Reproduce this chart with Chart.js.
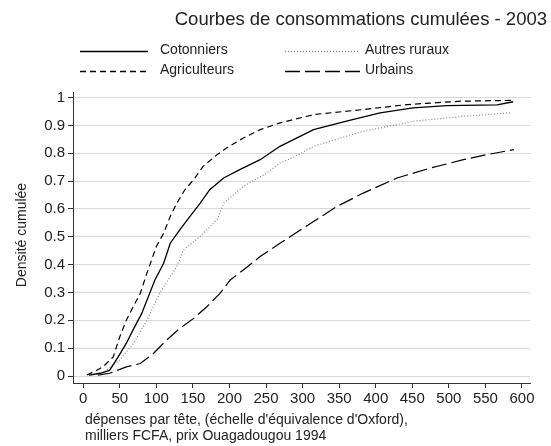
<!DOCTYPE html>
<html>
<head>
<meta charset="utf-8">
<script src="https://cdn.jsdelivr.net/npm/chart.js@4/dist/chart.umd.min.js"></script>
<style>
html,body{margin:0;padding:0;background:#fff;}
#wrap{position:relative;width:551px;height:446px;}
</style>
</head>
<body>
<div id="wrap"><canvas id="c" width="551" height="446"></canvas></div>
<script>
const TITLE = "Courbes de consommations cumulées - 2003";
const Y_TITLE = "Densité cumulée";
const X_TITLE = ["dépenses par tête, (échelle d'équivalence d'Oxford),", "milliers FCFA, prix Ouagadougou 1994"];
const SERIES_NAMES = ["Cotonniers", "Agriculteurs", "Autres ruraux", "Urbains"];
const X_TICKS = [0,50,100,150,200,250,300,350,400,450,500,550,600];
const Y_TICKS = [0,0.1,0.2,0.3,0.4,0.5,0.6,0.7,0.8,0.9,1];
const Y_TICK_LABELS = ["0","0.1","0.2","0.3","0.4","0.5","0.6","0.7","0.8","0.9","1"];

const cotonniersX = [8, 23, 36, 48, 59, 68, 80, 89, 98, 110, 119, 132, 146, 160, 173, 192, 214, 242, 269, 315, 360, 406, 451, 497, 566, 588];
const cotonniersY = [0.003, 0.01, 0.02, 0.07, 0.118, 0.165, 0.225, 0.285, 0.345, 0.405, 0.477, 0.525, 0.573, 0.621, 0.669, 0.711, 0.741, 0.777, 0.825, 0.885, 0.915, 0.945, 0.963, 0.971, 0.974, 0.985];

const agriculteursX = [5, 18, 27, 41, 50, 59, 66, 78, 87, 100, 110, 119, 128, 139, 151, 164, 183, 196, 219, 242, 269, 306, 315, 383, 443, 516, 588];
const agriculteursY = [0.004, 0.02, 0.033, 0.069, 0.141, 0.201, 0.237, 0.297, 0.369, 0.465, 0.513, 0.573, 0.621, 0.669, 0.705, 0.753, 0.795, 0.819, 0.855, 0.885, 0.909, 0.933, 0.939, 0.957, 0.975, 0.987, 0.99];

const autresX = [10, 27, 50, 69, 87, 105, 119, 128, 137, 160, 183, 192, 219, 251, 269, 287, 315, 383, 452, 520, 584];
const autresY = [0.003, 0.01, 0.058, 0.118, 0.2, 0.3, 0.357, 0.393, 0.453, 0.501, 0.561, 0.621, 0.681, 0.729, 0.765, 0.785, 0.825, 0.879, 0.915, 0.933, 0.945];

const urbainsX = [20, 36, 59, 78, 96, 114, 132, 151, 169, 187, 201, 219, 242, 269, 287, 315, 347, 383, 429, 475, 520, 552, 589];
const urbainsY = [0.003, 0.01, 0.033, 0.045, 0.081, 0.129, 0.171, 0.207, 0.249, 0.297, 0.345, 0.381, 0.429, 0.477, 0.507, 0.555, 0.609, 0.657, 0.711, 0.747, 0.777, 0.795, 0.813];

function pts(xs, ys){ return xs.map((x,i)=>({x:x, y:ys[i]})); }

const styles = [
  {color:'#000', dash:[], width:1.3},
  {color:'#000', dash:[6,4], width:1.2},
  {color:'#888', dash:[1,2], width:1.2},
  {color:'#000', dash:[15,5], width:1.2}
];
const seriesData = [pts(cotonniersX,cotonniersY), pts(agriculteursX,agriculteursY), pts(autresX,autresY), pts(urbainsX,urbainsY)];

const datasets = SERIES_NAMES.map((n,i)=>({
  label:n, data:seriesData[i], borderColor:styles[i].color, borderDash:styles[i].dash,
  borderWidth:styles[i].width, pointRadius:0, fill:false, tension:0
}));

const FONT = '"Liberation Sans", Arial, sans-serif';
const TXT = '#222';

const decor = {
  id:'decor',
  afterDraw(chart){
    const ctx = chart.ctx;
    ctx.save();
    ctx.fillStyle = TXT;
    ctx.textBaseline = 'middle';
    // title
    ctx.font = '18.5px ' + FONT;
    ctx.textAlign = 'right';
    ctx.fillText(TITLE, 547, 20);
    // legend
    ctx.font = '14px ' + FONT;
    ctx.textAlign = 'left';
    const pos = [[80,148,160,50],[80,148,160,70],[285,360,365,50],[285,360,365,70]];
    SERIES_NAMES.forEach((n,i)=>{
      const p = pos[i];
      ctx.save();
      ctx.strokeStyle = styles[i].color;
      ctx.lineWidth = 1.3;
      ctx.setLineDash(styles[i].dash);
      ctx.beginPath();
      ctx.moveTo(p[0], p[3]+1.5); ctx.lineTo(p[1], p[3]+1.5);
      ctx.stroke();
      ctx.restore();
      ctx.fillStyle = TXT;
      ctx.fillText(n, p[2], p[3]);
    });
    // y title
    ctx.save();
    ctx.translate(22, 235);
    ctx.rotate(-Math.PI/2);
    ctx.textAlign = 'center';
    ctx.font = '14px ' + FONT;
    ctx.fillText(Y_TITLE, 0, 0);
    ctx.restore();
    // x title
    ctx.font = '14px ' + FONT;
    ctx.textAlign = 'left';
    X_TITLE.forEach((t,i)=> ctx.fillText(t, 85, 420 + i*16));
    ctx.restore();
  }
};

new Chart(document.getElementById('c'), {
  type:'line',
  data:{datasets},
  plugins:[decor],
  options:{
    responsive:false, animation:false,
    layout:{padding:{left:0, right:21, top:92, bottom:0}},
    plugins:{legend:{display:false}, title:{display:false}, tooltip:{enabled:false}},
    scales:{
      x:{
        type:'linear', min:-14, max:611,
        afterBuildTicks(s){ s.ticks = X_TICKS.map(v=>({value:v})); },
        afterFit(s){ s.height = 63; },
        ticks:{font:{family:FONT, size:15}, color:TXT, maxRotation:0, autoSkip:false, padding:2, callback:(v)=>String(v)},
        grid:{drawOnChartArea:false, tickLength:5, tickColor:'#333', tickWidth:1},
        border:{color:'#333', width:1}
      },
      y:{
        type:'linear', min:-0.025, max:1.02,
        afterBuildTicks(s){ s.ticks = Y_TICKS.map(v=>({value:v})); },
        afterFit(s){ s.width = 73; },
        ticks:{font:{family:FONT, size:15}, color:TXT, padding:3, autoSkip:false,
          callback:(v)=>{ const i = Y_TICKS.findIndex(t=>Math.abs(t-v)<1e-9); return i>=0?Y_TICK_LABELS[i]:''; }},
        grid:{color:'#d9d9d9', lineWidth:1, tickLength:5, tickColor:'#333'},
        border:{color:'#333', width:1}
      }
    }
  }
});
</script>
</body>
</html>
